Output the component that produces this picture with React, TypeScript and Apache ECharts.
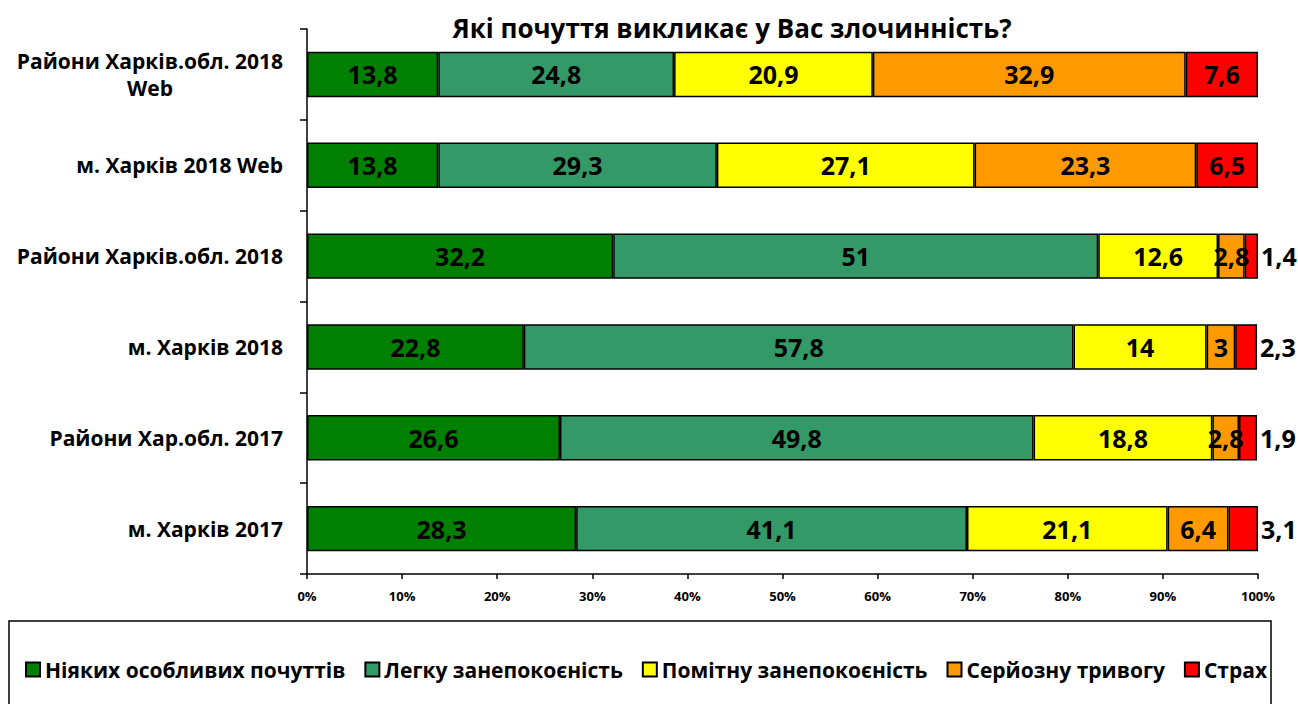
import React, { useEffect, useRef } from "react";
import * as echarts from "echarts";

const categories = [
  "Райони Харків.обл. 2018\nWeb",
  "м. Харків 2018 Web",
  "Райони Харків.обл. 2018",
  "м. Харків 2018",
  "Райони Хар.обл. 2017",
  "м. Харків 2017",
];
const seriesNames = [
  "Ніяких особливих почуттів",
  "Легку занепокоєність",
  "Помітну занепокоєність",
  "Серйозну тривогу",
  "Страх",
];
const noFeelings = [13.8, 13.8, 32.2, 22.8, 26.6, 28.3];
const lightConcern = [24.8, 29.3, 51, 57.8, 49.8, 41.1];
const notableConcern = [20.9, 27.1, 12.6, 14, 18.8, 21.1];
const seriousAnxiety = [32.9, 23.3, 2.8, 3, 2.8, 6.4];
const fear = [7.6, 6.5, 1.4, 2.3, 1.9, 3.1];
const xTicks = ["0%", "10%", "20%", "30%", "40%", "50%", "60%", "70%", "80%", "90%", "100%"];
const colors = ["#008000", "#339966", "#FFFF00", "#FF9900", "#FF0000"];

const FONT = "'Open Sans', 'Noto Sans', sans-serif";

export default function App() {
  const ref = useRef<HTMLDivElement>(null);
  useEffect(() => {
    if (!ref.current) return;
    const chart = echarts.init(ref.current, null, { renderer: "svg" });
    const all = [noFeelings, lightConcern, notableConcern, seriousAnxiety, fear];
    const fmt = (v: number) => String(v).replace(".", ",");
    const series = all.map((arr, si) => ({
      name: seriesNames[si],
      type: "bar",
      stack: "total",
      barWidth: "50%",
      itemStyle: { color: colors[si], borderColor: "#000", borderWidth: 1.5 },
      label: {
        show: true,
        position: "inside",
        color: "#000",
        fontFamily: FONT,
        fontWeight: "bold",
        fontSize: 25,
        formatter: (p: any) => fmt(p.value),
      },
      data: arr.map((v) =>
        si === 4 && v < 5
          ? { value: v, label: { position: "right", distance: 3 } }
          : { value: v }
      ),
    }));
    chart.setOption({
      animation: false,
      textStyle: { fontFamily: FONT },
      title: {
        text: "Які почуття викликає у Вас злочинність?",
        left: 727,
        textAlign: "center",
        top: 10,
        textStyle: { fontFamily: FONT, fontWeight: "bold", fontSize: 26, color: "#000" },
      },
      grid: { left: 307, right: 40, top: 29, bottom: 130, containLabel: false },
      legend: {
        left: 20,
        top: 654,
        itemWidth: 14,
        itemHeight: 14,
        itemGap: 19,
        textStyle: { fontFamily: FONT, fontWeight: "bold", fontSize: 21, color: "#000" },
        data: seriesNames.map((n) => ({ name: n, icon: "rect" })),
      },
      xAxis: {
        type: "value",
        min: 0,
        max: 100,
        interval: 10,
        splitLine: { show: false },
        axisLine: { show: true, lineStyle: { color: "#000", width: 1.5 } },
        axisTick: { show: true, length: 5, lineStyle: { color: "#000", width: 1.5 } },
        axisLabel: {
          margin: 15,
          color: "#000",
          fontFamily: FONT,
          fontWeight: "bold",
          fontSize: 13,
          formatter: (v: number) => xTicks[Math.round(v / 10)],
        },
      },
      yAxis: {
        type: "category",
        inverse: true,
        data: categories,
        axisLine: { show: true, lineStyle: { color: "#000", width: 1.5 } },
        axisTick: { show: true, length: 7, lineStyle: { color: "#000", width: 1.5 } },
        axisLabel: {
          margin: 24,
          color: "#000",
          fontFamily: FONT,
          fontWeight: "bold",
          fontSize: 21,
          lineHeight: 27,
          formatter: (v: string) =>
            v.split("\n").map((l) => "{c|" + l + "}").join("\n"),
          rich: {
            c: { align: "center", fontFamily: FONT, fontWeight: "bold", fontSize: 21, lineHeight: 27, color: "#000" },
          },
        },
      },
      graphic: [
        {
          type: "rect",
          shape: { x: 9, y: 621, width: 1262, height: 100 },
          style: { fill: "none", stroke: "#000", lineWidth: 1.5 },
          silent: true,
        },
      ],
      series,
    });
    return () => chart.dispose();
  }, []);
  return (
    <div
      ref={ref}
      style={{ position: "fixed", left: 0, top: 0, width: 1298, height: 704, background: "#fff" }}
    />
  );
}
